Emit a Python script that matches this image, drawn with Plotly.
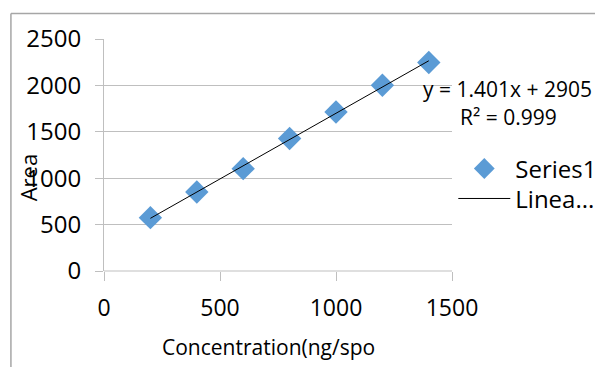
import numpy as np
import plotly.graph_objects as go

concentration = [200, 400, 600, 800, 1000, 1200, 1400]
area = [575, 851, 1103, 1427, 1713, 2001, 2246]
x_ticks = [0, 500, 1000, 1500]
y_ticks = [0, 500, 1000, 1500, 2000, 2500]
equation_text = "y = 1.401x + 2905"
r2_text = "R² = 0.999"

W, H = 595, 367
L, R, T, B = 104, 451.7, 38.5, 270.7
FONT = "Open Sans"
GRID = "#bfbfbf"

coef = np.polyfit(concentration, area, 1)
fit_x = [concentration[0], concentration[-1]]
fit_y = [float(np.polyval(coef, v)) for v in fit_x]

fig = go.Figure()
fig.add_trace(go.Scatter(
    x=concentration, y=area, mode="markers", name="Series1", legend="legend",
    marker=dict(symbol="diamond", size=18, color="#5b9bd5", line=dict(width=0)),
))
fig.add_trace(go.Scatter(
    x=fit_x, y=fit_y, mode="lines", name="Linea...", legend="legend2",
    line=dict(color="black", width=1),
))

def px_x(p):
    return (p - L) / (R - L)

def px_y(p):
    return (B - p) / (B - T)

legend_common = dict(
    xanchor="left", yanchor="top", bgcolor="rgba(0,0,0,0)", itemwidth=52,
    borderwidth=0, font=dict(family=FONT, size=24, color="black"),
)

fig.update_layout(
    template="none",
    width=W, height=H,
    margin=dict(l=L, r=W - R, t=T, b=H - B, pad=0, autoexpand=False),
    paper_bgcolor="white", plot_bgcolor="white",
    font=dict(family=FONT, size=24, color="black"),
    showlegend=True,
    legend=dict(x=px_x(453), y=px_y(146), **legend_common),
    legend2=dict(x=px_x(453), y=px_y(176), **legend_common),
    xaxis=dict(
        range=[0, 1500], tickvals=x_ticks, showgrid=False, zeroline=False,
        showline=False, ticks="outside", ticklen=9, tickcolor=GRID,
        ticklabelstandoff=7, fixedrange=True, automargin=False,
        tickfont=dict(family=FONT, size=23, color="black"),
    ),
    yaxis=dict(
        range=[0, 2500], tickvals=y_ticks, showgrid=True, gridcolor=GRID,
        gridwidth=1, zeroline=False, showline=True, linecolor=GRID, linewidth=1,
        ticks="outside", ticklen=8, tickcolor=GRID, ticklabelstandoff=9,
        fixedrange=True, automargin=False,
        tickfont=dict(family=FONT, size=24, color="black"),
    ),
    shapes=[
        dict(type="line", xref="paper", yref="paper", x0=px_x(11), x1=px_x(600),
             y0=px_y(13), y1=px_y(13), line=dict(color="#a6a6a6", width=1.5)),
        dict(type="line", xref="paper", yref="paper", x0=px_x(11), x1=px_x(11),
             y0=px_y(13), y1=px_y(370), line=dict(color="#a6a6a6", width=1.5)),
        dict(type="line", xref="paper", yref="paper", x0=0, x1=1,
             y0=0, y1=0, line=dict(color=GRID, width=1)),
    ],
    annotations=[
        dict(text=equation_text, xref="paper", yref="paper", x=px_x(507), y=px_y(89),
             xanchor="center", yanchor="middle", showarrow=False,
             font=dict(family=FONT, size=21, color="black")),
        dict(text=r2_text, xref="paper", yref="paper", x=px_x(508), y=px_y(117),
             xanchor="center", yanchor="middle", showarrow=False,
             font=dict(family=FONT, size=21, color="black")),
        dict(text="Area", xref="paper", yref="paper", x=px_x(28), y=px_y(177),
             xanchor="center", yanchor="middle", showarrow=False, textangle=-90,
             font=dict(family=FONT, size=22, color="black")),
        dict(text="Concentration(ng/spo", xref="paper", yref="paper", x=px_x(268),
             y=px_y(347), xanchor="center", yanchor="middle", showarrow=False,
             font=dict(family=FONT, size=21, color="black")),
    ],
)

fig.write_html(
    "out.html",
    config={"displayModeBar": False},
    post_script="document.body.style.margin='0';document.body.style.padding='0';",
)
